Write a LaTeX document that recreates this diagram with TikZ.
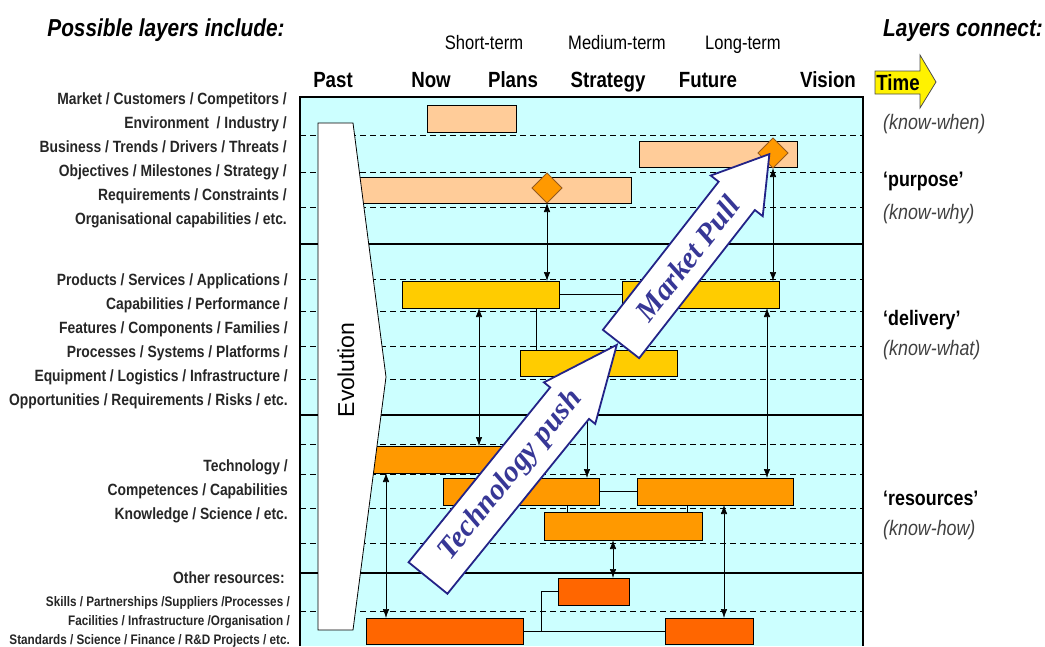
\documentclass[tikz,border=0pt]{standalone}
\usepackage{fontspec}
\setmainfont{Liberation Sans}
\newfontfamily\narrow[FakeStretch=0.85]{Liberation Sans}
\newfontfamily\pushfont{Liberation Serif}
\usetikzlibrary{arrows.meta,shapes.geometric}

\definecolor{chartbg}{RGB}{204,255,255}
\definecolor{peach}{RGB}{255,204,153}
\definecolor{gold}{RGB}{255,204,0}
\definecolor{amber}{RGB}{255,153,0}
\definecolor{rust}{RGB}{255,102,0}
\definecolor{navy}{RGB}{35,35,135}
\definecolor{inkblue}{RGB}{55,55,150}
\definecolor{msline}{RGB}{150,90,30}

% a layer bar from (x1,y1) to (x2,y2), picture units are pixels
\newcommand{\layerbar}[6]{%
  \node[#6, minimum width={#4-#2}, minimum height={#5-#3}] (#1) at ({(#2+#4)/2},{(#3+#5)/2}) {};}

\begin{document}
\begin{tikzpicture}[x=1pt, y=-1pt,
  lay/.style={rectangle, draw=black, line width=0.8pt, inner sep=0pt, outer sep=0pt},
  purposebar/.style={lay, fill=peach},
  deliverbar/.style={lay, fill=gold},
  techbar/.style={lay, fill=amber},
  resbar/.style={lay, fill=rust},
  milestone/.style={diamond, aspect=1, draw=msline, fill=amber, line width=0.8pt,
    minimum width=30, minimum height=30, inner sep=0pt, outer sep=0pt},
  link/.style={line width=0.7pt, {Latex[length=9pt,width=6.5pt]}-{Latex[length=9pt,width=6.5pt]}},
  tie/.style={line width=0.7pt},
  guide/.style={line width=0.8pt, dash pattern=on 6pt off 4pt},
  divider/.style={line width=1.8pt},
  bigarrow/.style={draw=navy, fill=white, line width=1.8pt},
  bigtext/.style={font=\pushfont\bfseries\itshape\fontsize{30}{30}\selectfont, text=inkblue, inner sep=0pt},
  layerlabel/.style={anchor=base east, inner sep=0pt, text=black!85, font=\narrow\bfseries\fontsize{16.3}{18}\selectfont},
  smalllabel/.style={layerlabel, font=\narrow\bfseries\fontsize{13.8}{16}\selectfont},
  period/.style={anchor=base, inner sep=0pt, font=\narrow\bfseries\fontsize{22}{24}\selectfont},
  horizon/.style={anchor=base, inner sep=0pt, font=\narrow\fontsize{19.5}{22}\selectfont},
  kind/.style={anchor=base west, inner sep=0pt, font=\narrow\bfseries\fontsize{21}{24}\selectfont},
  know/.style={anchor=base west, inner sep=0pt, text=black!75, font=\narrow\itshape\fontsize{21}{24}\selectfont},
  heading/.style={anchor=base, inner sep=0pt, font=\narrow\bfseries\itshape\fontsize{24.5}{26}\selectfont}]

\useasboundingbox (0,0) rectangle (1045,646);

% chart area
\fill[chartbg] (300,97) rectangle (863,646);
\foreach \y in {135,172,207,279,311,346,379,444,474,508,543,611}
  \draw[guide] (300,\y) -- (863,\y);
\foreach \y in {244,415,573}
  \draw[divider] (300,\y) -- (863,\y);

% bars
\layerbar{mkt}{427}{105}{516}{132}{purposebar}
\layerbar{biz}{639}{141}{797}{167}{purposebar}
\layerbar{req}{340}{177}{631}{203}{purposebar}
\layerbar{prod}{402}{281}{559}{308}{deliverbar}
\layerbar{serv}{622}{281}{779}{308}{deliverbar}
\layerbar{plat}{520}{350}{677}{376}{deliverbar}
\layerbar{tech}{355}{446}{520}{473}{techbar}
\layerbar{comp}{443}{478}{599}{505}{techbar}
\layerbar{capa}{637}{478}{793}{505}{techbar}
\layerbar{know}{544}{512}{702}{540}{techbar}
\layerbar{skill}{558}{578}{629}{605}{resbar}
\layerbar{fin}{366}{618}{523}{644}{resbar}
\layerbar{proj}{665}{618}{753}{644}{resbar}

\node[milestone] (ms1) at (547,188) {};
\node[milestone] (ms2) at (773,153) {};

% links between layers
\foreach \x/\a/\b in {547/ms1.south/prod.north, 773/ms2.south/serv.north,
    479/prod.south/tech.north, 767/serv.south/capa.north, 386/tech.south/fin.north,
    587/plat.south/comp.north, 613/know.south/skill.north, 724/capa.south/proj.north}
  \draw[link] (\x,0 |- \a) -- (\x,0 |- \b);

\draw[tie] (prod.east) -- (serv.west);
\draw[tie] (536,0 |- prod.south) -- (536,0 |- plat.north);
\draw[tie] (comp.east) -- (comp.east -| capa.west);
\draw[tie] (567,0 |- comp.south) -- (567,0 |- know.north);
\draw[tie] (687,0 |- capa.south) -- (687,0 |- know.north);
\draw[tie] (fin.east) -- (proj.west);
\draw[tie] (skill.west) -| (541,0 |- fin.east);

% evolution
\draw[fill=white, line width=0.8pt] (318,123) -- (353,123) -- (386,377) -- (353,630) -- (318,630) -- cycle;
\node[rotate=90, inner sep=0pt, font=\fontsize{23}{23}\selectfont] (evo) at (346,370) {Evolution};

% market pull and technology push
\begin{scope}[shift={(621,344)}, rotate=52]
  \draw[bigarrow] (0,-23) -- (188,-23) -- (188,-33) -- (241,0) -- (188,33) -- (188,23) -- (0,23) -- cycle;
  \node[bigtext, rotate=52] (pull) at (108,0) {Market Pull};
\end{scope}
\begin{scope}[shift={(428,578)}, rotate=51]
  \draw[bigarrow] (0,-25) -- (225,-25) -- (225,-33) -- (300,0) -- (225,33) -- (225,25) -- (0,25) -- cycle;
  \node[bigtext, rotate=51] (push) at (132,0) {Technology push};
\end{scope}

\draw[line width=2pt] (300,646) -- (300,97) -- (863,97) -- (863,646);

% time axis
\node[horizon] (short) at (484,49) {Short-term};
\node[horizon] (medium) at (617,49) {Medium-term};
\node[horizon] (long) at (743,49) {Long-term};
\foreach \t/\x in {Past/333, Now/431, Plans/513, Strategy/608, Future/708, Vision/828}
  \node[period] (t-\t) at (\x,87) {\t};

% headings
\node[heading] (include) at (166,36) {Possible layers include:};
\node[heading, anchor=base west] (connect) at (883,36) {Layers connect:};

% left labels
\foreach \t [count=\i from 0] in {Market / Customers / Competitors /, Environment \ / Industry /,
    Business / Trends / Drivers / Threats /, Objectives / Milestones / Strategy /,
    Requirements / Constraints /, Organisational capabilities / etc.}
  \node[layerlabel] (purp\i) at (287,{104+24*\i}) {\t};
\foreach \t [count=\i from 0] in {Products / Services / Applications /, Capabilities / Performance /,
    Features / Components / Families /, Processes / Systems / Platforms /,
    Equipment / Logistics / Infrastructure /, Opportunities / Requirements / Risks / etc.}
  \node[layerlabel] (deliv\i) at (288,{285+24*\i}) {\t};
\foreach \t [count=\i from 0] in {Technology /, Competences / Capabilities, Knowledge / Science / etc.}
  \node[layerlabel] (tech\i) at (288,{471+24*\i}) {\t};
\node[layerlabel] (other) at (285,583) {Other resources:};
\foreach \t [count=\i from 0] in {Skills / Partnerships /Suppliers /Processes /,
    Facilities / Infrastructure /Organisation /, Standards / Science / Finance / R\&D Projects / etc.}
  \node[smalllabel] (res\i) at (290,{606+19*\i}) {\t};

% right labels
\draw[fill=yellow, draw=black!70, line width=0.8pt] (875,71) -- (920,71) -- (920,55) -- (936,82)
  -- (920,108) -- (920,94) -- (875,94) -- cycle;
\node[inner sep=0pt, font=\narrow\bfseries\fontsize{22}{22}\selectfont] (time) at (898,83) {Time};
\node[know] (when) at (883,129) {(know-when)};
\node[kind] (purpose) at (883,186) {‘purpose’};
\node[know] (why) at (883,219) {(know-why)};
\node[kind] (delivery) at (883,325) {‘delivery’};
\node[know] (what) at (883,355) {(know-what)};
\node[kind] (resources) at (883,505) {‘resources’};
\node[know] (how) at (883,535) {(know-how)};

\end{tikzpicture}
\end{document}
